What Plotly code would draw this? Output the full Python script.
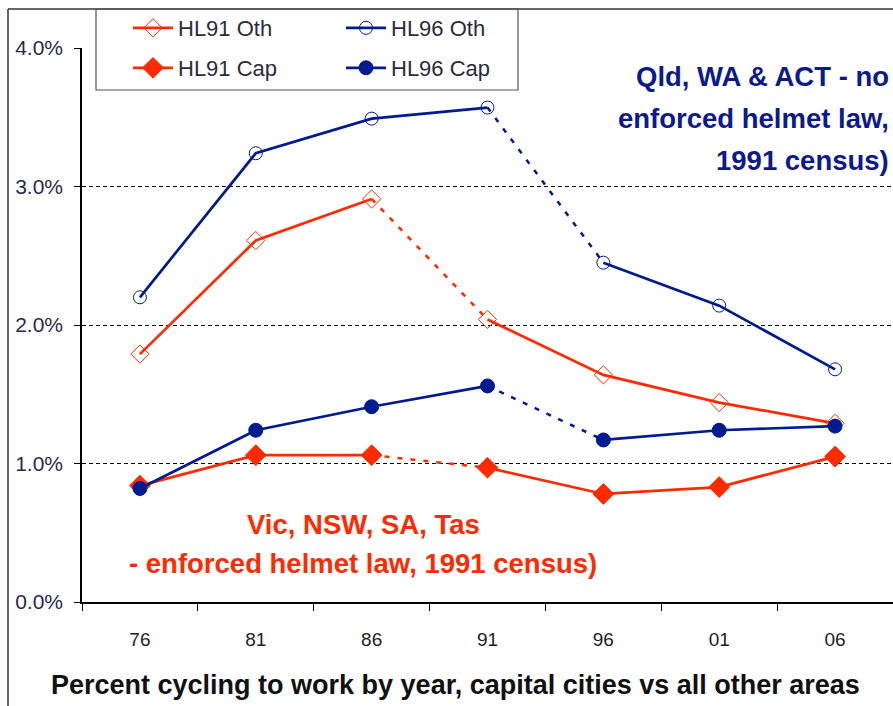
import plotly.graph_objects as go

# ── Data ──────────────────────────────────────────────────────────────────────

YEARS = ["76", "81", "86", "91", "96", "01", "06"]

HL91_OTH = [1.79, 2.61, 2.91, 2.04, 1.64, 1.44, 1.29]
HL96_OTH = [2.20, 3.24, 3.49, 3.57, 2.45, 2.14, 1.68]
HL91_CAP = [0.84, 1.06, 1.06, 0.97, 0.78, 0.83, 1.05]
HL96_CAP = [0.82, 1.24, 1.41, 1.56, 1.17, 1.24, 1.27]

# index of the last point before the dashed (helmet-law) gap
HL91_BREAK = 2
HL96_BREAK = 3

Y_TICKS = [0, 1, 2, 3, 4]
Y_TICK_LABELS = ["0.0%", "1.0%", "2.0%", "3.0%", "4.0%"]

NOTE_NO_LAW = ["Qld, WA & ACT - no", "enforced helmet law,", "1991 census)"]
NOTE_LAW = ["Vic, NSW, SA, Tas", "- enforced helmet law, 1991 census)"]
X_TITLE = "Percent cycling to work by year, capital cities vs all other areas"

RED = "#ff2a00"
BLUE = "#001a8f"
FONT = "Liberation Sans, Arial, sans-serif"

# ── Helpers ───────────────────────────────────────────────────────────────────

def split_series(vals, k):
    """Solid series with a gap after index k; dashed bridge over the gap."""
    xs = YEARS[:k + 1] + [YEARS[k]] + YEARS[k + 1:]
    ys = vals[:k + 1] + [None] + vals[k + 1:]
    return (xs, ys), (YEARS[k:k + 2], vals[k:k + 2])


SERIES = [
    ("HL91 Oth", HL91_OTH, HL91_BREAK, RED, "diamond-open", 14, "legend"),
    ("HL96 Oth", HL96_OTH, HL96_BREAK, BLUE, "circle-open", 13, "legend2"),
    ("HL91 Cap", HL91_CAP, HL91_BREAK, RED, "diamond", 16, "legend3"),
    ("HL96 Cap", HL96_CAP, HL96_BREAK, BLUE, "circle", 14, "legend4"),
]

fig = go.Figure()

for name, vals, k, color, symbol, size, leg in SERIES:
    (xs, ys), (dx, dy) = split_series(vals, k)
    fig.add_trace(go.Scatter(
        x=dx, y=dy, mode="lines", showlegend=False, hoverinfo="skip",
        line=dict(color=color, width=2.5, dash="5px,8px"),
    ))
    fig.add_trace(go.Scatter(
        x=xs, y=ys, name=name, mode="lines+markers", legend=leg,
        connectgaps=False, cliponaxis=False,
        line=dict(color=color, width=2.7),
        marker=dict(symbol=symbol, size=size, color=color,
                    line=dict(color=color, width=1)),
    ))

# ── Layout ────────────────────────────────────────────────────────────────────

def px_y(y):
    """pixel row -> paper y (plot area rows 48..602)"""
    return (602 - y) / 554


def px_x(x):
    """pixel column -> paper x (plot area cols 82..893)"""
    return (x - 82) / 811


legend_style = dict(font=dict(family=FONT, size=22, color="#2b2b3a"),
                    bgcolor="rgba(0,0,0,0)", borderwidth=0,
                    xanchor="left", yanchor="middle", itemwidth=40)
fig.update_layout(
    legend=dict(x=px_x(128), y=px_y(28), **legend_style),
    legend2=dict(x=px_x(341), y=px_y(28), **legend_style),
    legend3=dict(x=px_x(128), y=px_y(68), **legend_style),
    legend4=dict(x=px_x(341), y=px_y(68), **legend_style),
)

annotations = []
for i, line in enumerate(NOTE_NO_LAW):
    annotations.append(dict(
        text=f"<b>{line}</b>", xref="paper", yref="paper",
        x=px_x(891), y=px_y(77 + 41.5 * i), xanchor="right", yanchor="middle",
        showarrow=False, font=dict(family=FONT, size=27.5, color="#0d1a8c"),
    ))
for i, line in enumerate(NOTE_LAW):
    annotations.append(dict(
        text=f"<b>{line}</b>", xref="paper", yref="paper",
        x=px_x(363), y=px_y(524 + 39 * i), xanchor="center", yanchor="middle",
        showarrow=False, font=dict(family=FONT, size=27.5, color=RED),
    ))
annotations.append(dict(
    text=f"<b>{X_TITLE}</b>", xref="paper", yref="paper",
    x=px_x(455), y=px_y(685), xanchor="center", yanchor="middle",
    showarrow=False, font=dict(family=FONT, size=27, color="#111111"),
))

shapes = [
    # outer chart frame (left and top edges)
    dict(type="line", xref="paper", yref="paper", x0=px_x(8), x1=px_x(8),
         y0=px_y(9), y1=px_y(706), line=dict(color="#333333", width=1.5)),
    dict(type="line", xref="paper", yref="paper", x0=px_x(8), x1=px_x(893),
         y0=px_y(9), y1=px_y(9), line=dict(color="#333333", width=1.5)),
    # legend box
    dict(type="rect", xref="paper", yref="paper", x0=px_x(96), x1=px_x(518),
         y0=px_y(90), y1=px_y(9), line=dict(color="#555555", width=1.2),
         fillcolor="rgba(0,0,0,0)"),
]

fig.update_layout(
    width=893, height=706,
    margin=dict(l=82, r=0, t=48, b=104),
    paper_bgcolor="white", plot_bgcolor="white",
    font=dict(family=FONT),
    showlegend=True,
    annotations=annotations,
    shapes=shapes,
    xaxis=dict(
        type="category", categoryorder="array", categoryarray=YEARS,
        range=[-0.5, 6.5], tickson="boundaries", ticks="outside", ticklen=7,
        tickcolor="black", showline=True, linecolor="black", linewidth=1.5,
        showgrid=False, ticklabelstandoff=19,
        tickfont=dict(family="Liberation Sans Narrow, Arial Narrow, sans-serif",
                      size=19, color="#222222"),
    ),
    yaxis=dict(
        range=[0, 4.0], tickvals=Y_TICKS, ticktext=Y_TICK_LABELS,
        ticks="outside", ticklen=6, tickcolor="black",
        showline=True, linecolor="black", linewidth=1.5,
        showgrid=True, gridcolor="black", gridwidth=1, griddash="4px,3px",
        zeroline=False, ticklabelstandoff=7,
        tickfont=dict(family=FONT, size=21, color="#2a2a4a"),
    ),
)

# page body has an 8px default margin; drop it so the figure sits at 0,0
fig.write_html("out.html", config={"displayModeBar": False},
               post_script="document.body.style.margin='0';")
